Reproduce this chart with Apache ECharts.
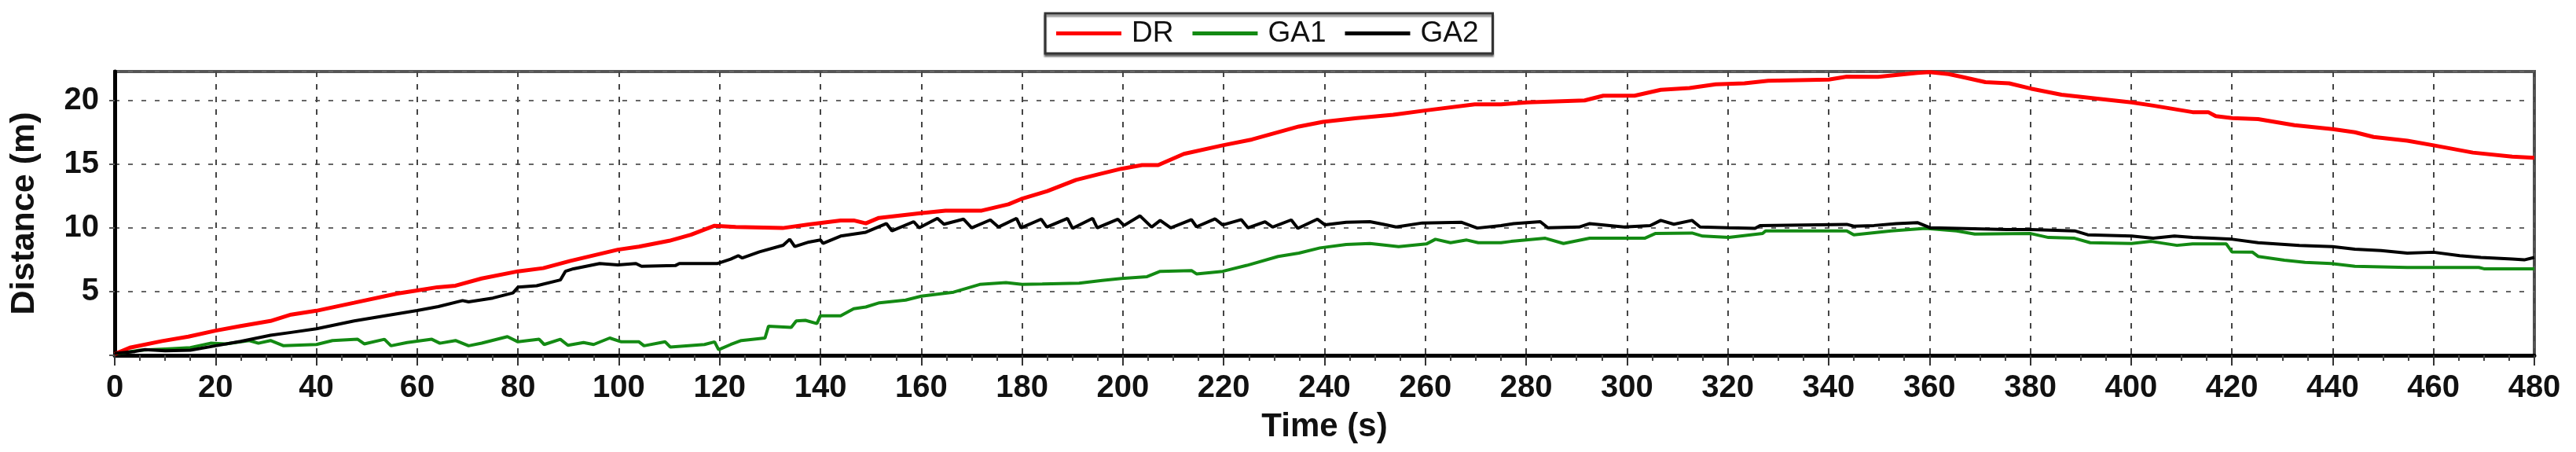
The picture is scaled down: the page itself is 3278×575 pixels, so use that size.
<!DOCTYPE html>
<html>
<head>
<meta charset="utf-8">
<script src="https://cdn.jsdelivr.net/npm/echarts@6/dist/echarts.min.js"></script>
<style>
html,body{margin:0;padding:0;background:#fff;}
#chart{width:3278px;height:575px;}
</style>
</head>
<body>
<div id="chart"></div>
<script>
// ---- data (time s, distance m) ----
const seriesNames = ['DR', 'GA1', 'GA2'];
const xTicks = { min: 0, max: 480, step: 20 };
const yTicks = { min: 0, max: 22.3, step: 5 };

const drData = [[0,0.1],[3,0.6],[9.4,1.12],[14.6,1.47],[20,1.94],[25,2.3],[30.9,2.7],[35,3.2],[40,3.5],[47.5,4.13],[56,4.85],[60,5.1],[64,5.35],[67.6,5.47],[72.8,6.04],[80,6.6],[85,6.85],[90.4,7.42],[99.8,8.3],[104,8.54],[110,9.0],[114.3,9.47],[119,10.18],[123.2,10.08],[132.5,10.0],[137.7,10.29],[144,10.6],[146.6,10.6],[149,10.37],[151.6,10.8],[159.8,11.17],[164.8,11.37],[172,11.37],[177.3,11.87],[179.8,12.28],[185,12.9],[190.7,13.78],[194.9,14.2],[199.7,14.66],[203.8,14.95],[207,14.95],[212.1,15.83],[219.8,16.5],[225.6,16.96],[234.9,17.98],[239.7,18.35],[246.4,18.64],[253.6,18.9],[260.2,19.25],[269.8,19.72],[275,19.72],[280.2,19.87],[291.6,20.03],[295.3,20.4],[301.5,20.4],[306.7,20.86],[312.4,21.0],[317.6,21.3],[323.3,21.37],[328,21.57],[340,21.67],[343.6,21.9],[349.8,21.88],[357.6,22.19],[360,22.25],[363.8,22.1],[366.4,21.88],[371.1,21.47],[375.8,21.37],[380.1,20.96],[386.2,20.48],[394,20.14],[400.1,19.87],[404.4,19.62],[412.2,19.11],[415.3,19.11],[416.8,18.8],[420.1,18.64],[425.2,18.56],[432.4,18.08],[440,17.78],[444.4,17.53],[448.1,17.16],[454.8,16.86],[460,16.5],[467.8,15.93],[475.6,15.62],[480,15.52]];

const ga1Data = [[0,0.1],[5,0.4],[10,0.5],[15,0.6],[19,0.95],[22,0.9],[26.7,1.16],[28.5,0.95],[30.9,1.16],[33.5,0.75],[40,0.85],[43.2,1.16],[48.2,1.26],[49.5,0.9],[53.5,1.26],[54.8,0.75],[58,1.0],[62.9,1.26],[64.5,0.95],[67.6,1.16],[70.2,0.75],[72.8,0.96],[77.9,1.47],[80,1.06],[84.2,1.26],[85.2,0.85],[88.4,1.26],[89.9,0.79],[93,1.0],[95,0.85],[98.2,1.36],[100.5,1.06],[104,1.06],[105,0.75],[109.2,1.06],[110.2,0.65],[117,0.85],[119,1.06],[119.8,0.44],[122.2,0.85],[124.3,1.16],[129,1.36],[129.7,2.29],[134.2,2.19],[135.2,2.7],[137,2.75],[139.3,2.49],[140,3.11],[144,3.11],[146.6,3.66],[149,3.8],[151.7,4.13],[156.9,4.34],[160,4.65],[166.4,4.96],[171.6,5.57],[176.8,5.72],[180,5.57],[184,5.6],[191.3,5.67],[195.9,5.88],[199.7,6.04],[204.8,6.18],[207.4,6.6],[213.6,6.66],[214.6,6.4],[219.8,6.6],[224.6,7.07],[230.8,7.77],[234.9,8.03],[239.1,8.44],[244.3,8.71],[249,8.79],[254.7,8.54],[260.2,8.75],[262,9.12],[265,8.85],[268.2,9.06],[270.5,8.85],[275,8.85],[277,8.95],[283.8,9.2],[287.4,8.79],[292.6,9.2],[303.5,9.2],[305.6,9.57],[312.9,9.61],[315,9.37],[320.2,9.26],[326.9,9.57],[327.5,9.78],[343.6,9.78],[345,9.47],[352.4,9.78],[359.2,9.98],[365.4,9.78],[369,9.53],[380.1,9.57],[383.6,9.26],[388.8,9.2],[391.9,8.85],[400.1,8.79],[404,8.95],[409.1,8.64],[412.2,8.75],[418.9,8.75],[420,8.13],[424.1,8.1],[425.2,7.77],[430.4,7.48],[434.5,7.31],[439.7,7.21],[444.4,7.0],[454.8,6.9],[469,6.9],[470,6.8],[480,6.8]];

const ga2Data = [[0,0.15],[4,0.3],[6,0.45],[10,0.35],[15,0.4],[20,0.75],[25,1.1],[30.9,1.57],[35,1.8],[40,2.08],[47.5,2.7],[53.6,3.11],[60,3.52],[64.2,3.83],[69,4.3],[70.2,4.2],[75,4.5],[79,4.9],[80,5.36],[83.7,5.47],[88.4,5.92],[89.4,6.6],[91,6.8],[96.2,7.21],[99.8,7.11],[103.4,7.21],[104.5,7.0],[111.2,7.05],[112,7.21],[119.5,7.21],[122.2,7.56],[123.7,7.83],[124.5,7.65],[127.9,8.13],[132.6,8.65],[133.9,9.12],[134.9,8.55],[137.7,8.9],[140,9.06],[140.5,8.8],[144,9.37],[149,9.67],[153.1,10.35],[154.2,9.78],[158.5,10.5],[159.6,10.02],[163.2,10.76],[164.5,10.3],[168.4,10.7],[170,10.02],[173.7,10.64],[175.3,10.08],[178.9,10.76],[179.8,10.02],[183.8,10.7],[184.9,10.08],[189,10.76],[190,9.98],[194,10.76],[194.9,10.02],[199,10.7],[200.2,10.2],[203.4,10.96],[205.7,10.08],[207.4,10.6],[209.5,10.02],[213.6,10.66],[214.6,10.1],[218.3,10.72],[219.8,10.25],[223.5,10.66],[224.8,10.02],[228.2,10.5],[229.7,10.08],[233.4,10.64],[234.7,9.98],[238.6,10.7],[240.1,10.25],[244.3,10.45],[249,10.5],[251.6,10.3],[254.2,10.08],[259.4,10.4],[267.2,10.45],[270.3,10.0],[275,10.19],[277.5,10.35],[282.8,10.5],[284.3,10.02],[290.5,10.08],[292.6,10.35],[299.4,10.08],[304.6,10.19],[306.7,10.6],[309.3,10.3],[312.9,10.6],[314.5,10.08],[320.2,10.02],[325.4,9.98],[326.4,10.19],[343.6,10.29],[345,10.15],[349,10.2],[353.4,10.35],[357.6,10.43],[360.2,10.02],[365.4,9.98],[375.3,9.88],[380,9.88],[388.8,9.78],[391.4,9.47],[400.1,9.37],[404.4,9.2],[408.6,9.37],[412.2,9.26],[416,9.2],[420.1,9.12],[425.2,8.85],[433.4,8.64],[440,8.54],[444.4,8.34],[449.6,8.23],[454.8,8.03],[460,8.1],[465.2,7.83],[469.4,7.69],[475.6,7.56],[478,7.5],[480,7.69]];

const seriesColors = ['#ff0000', '#138a13', '#000000'];
const seriesWidths = [5, 4, 4];
const seriesData = [drData, ga1Data, ga2Data];

const FONT = "'Liberation Sans', Arial, sans-serif";
const chart = echarts.init(document.getElementById('chart'), null, { renderer: 'canvas' });

const option = {
  animation: false,
  backgroundColor: '#ffffff',
  legend: {
    data: seriesNames,
    left: 1330,
    top: 17,
    icon: 'rect',
    itemWidth: 83,
    itemHeight: 5,
    itemGap: 24,
    padding: [7, 18, 7, 14],
    borderColor: '#333',
    borderWidth: 3,
    backgroundColor: '#fff',
    shadowColor: 'rgba(0,0,0,0.45)',
    shadowOffsetY: 3,
    shadowBlur: 2,
    textStyle: { fontFamily: FONT, fontSize: 37, color: '#111', padding: [0, 0, 0, 8] }
  },
  grid: {
    left: 146, right: 53, top: 91, bottom: 123,
    show: true,
    borderColor: '#555',
    borderWidth: 4,
    backgroundColor: '#fff'
  },
  xAxis: {
    type: 'value',
    min: xTicks.min, max: xTicks.max, interval: xTicks.step,
    name: 'Time (s)',
    nameLocation: 'middle',
    nameGap: 70,
    nameTextStyle: { fontFamily: FONT, fontSize: 42, fontWeight: 'bold', color: '#111' },
    axisLine: { show: true, onZero: false, lineStyle: { color: '#000', width: 5 } },
    axisTick: { show: true, inside: false, length: 13, lineStyle: { color: '#333', width: 2 } },
    minorTick: { show: true, splitNumber: 4, length: 7, lineStyle: { color: '#444', width: 2 } },
    axisLabel: { fontFamily: FONT, fontSize: 40, fontWeight: 'bold', color: '#111', margin: 22 },
    splitLine: { show: true, lineStyle: { color: '#444', width: 2, type: [7, 9] } }
  },
  yAxis: {
    type: 'value',
    min: yTicks.min, max: yTicks.max, interval: yTicks.step,
    name: 'Distance (m)',
    nameLocation: 'middle',
    nameGap: 93,
    nameTextStyle: { fontFamily: FONT, fontSize: 43, fontWeight: 'bold', color: '#111' },
    axisLine: { show: true, onZero: false, lineStyle: { color: '#000', width: 5 } },
    axisTick: { show: true, inside: false, length: 7, lineStyle: { color: '#555', width: 2 } },
    axisLabel: {
      fontFamily: FONT, fontSize: 40, fontWeight: 'bold', color: '#111', margin: 20,
      showMaxLabel: false,
      formatter: function (v) { return (v > 0 && Math.abs(v % 5) < 1e-9) ? String(v) : ''; }
    },
    splitLine: { show: true, lineStyle: { color: '#666', width: 2, type: [6, 11] } }
  },
  series: seriesNames.map(function (n, i) {
    return {
      name: n,
      type: 'line',
      data: seriesData[i],
      symbol: 'none',
      smooth: false,
      color: seriesColors[i],
      lineStyle: { color: seriesColors[i], width: seriesWidths[i] },
      z: i === 0 ? 3 : (i === 2 ? 4 : 2)
    };
  })
};
chart.setOption(option);
</script>
</body>
</html>
